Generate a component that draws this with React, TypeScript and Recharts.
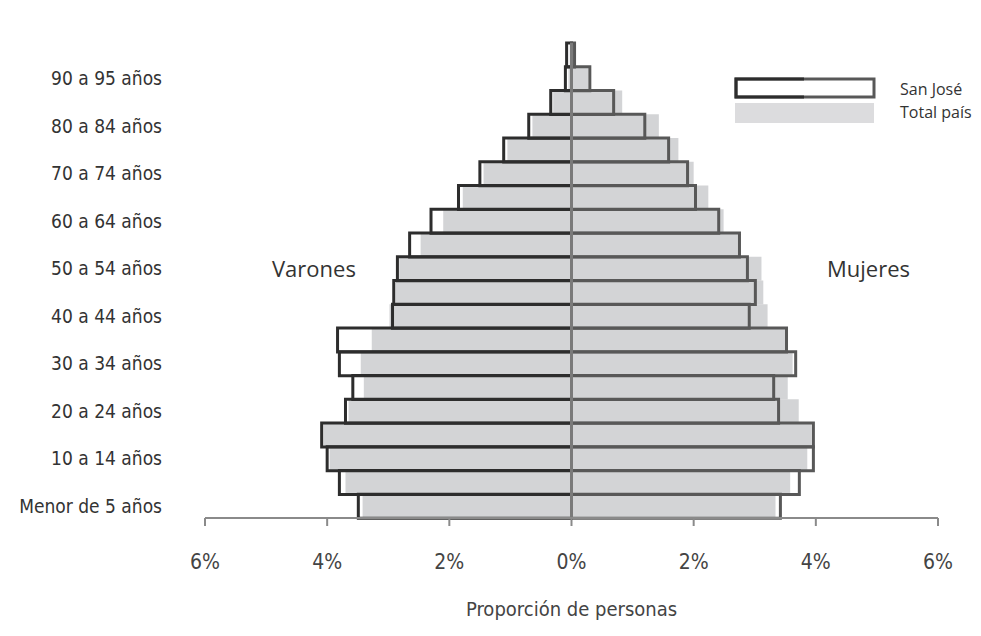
import { BarChart, Bar, XAxis, YAxis, ReferenceLine, Label } from 'recharts';

// Grupos de edad, de abajo hacia arriba
const grupos = [
  'Menor de 5 años', '5 a 9 años', '10 a 14 años', '15 a 19 años', '20 a 24 años',
  '25 a 29 años', '30 a 34 años', '35 a 39 años', '40 a 44 años', '45 a 49 años',
  '50 a 54 años', '55 a 59 años', '60 a 64 años', '65 a 69 años', '70 a 74 años',
  '75 a 79 años', '80 a 84 años', '85 a 89 años', '90 a 95 años', '95 y más',
];

// % de la población
const varonesSJ = [3.49, 3.8, 4.0, 4.09, 3.7, 3.58, 3.8, 3.83, 2.93, 2.91, 2.85, 2.65, 2.3, 1.85, 1.5, 1.11, 0.7, 0.34, 0.1, 0.08];
const varonesPais = [3.42, 3.7, 3.96, 4.06, 3.65, 3.4, 3.45, 3.27, 2.98, 2.88, 2.82, 2.47, 2.1, 1.78, 1.44, 1.05, 0.64, 0.3, 0.05, 0.03];
const mujeresSJ = [3.42, 3.73, 3.96, 3.96, 3.39, 3.31, 3.67, 3.52, 2.91, 3.01, 2.88, 2.75, 2.41, 2.03, 1.9, 1.59, 1.2, 0.69, 0.3, 0.05];
const mujeresPais = [3.34, 3.58, 3.86, 3.93, 3.72, 3.54, 3.62, 3.5, 3.21, 3.14, 3.11, 2.77, 2.49, 2.24, 2.0, 1.75, 1.43, 0.83, 0.27, 0.04];

const xTicks = [-6, -4, -2, 0, 2, 4, 6];

const data = grupos.map((g, i) => ({
  grupo: g,
  varonesPais: -varonesPais[i],
  mujeresPais: mujeresPais[i],
  varonesSJ: -varonesSJ[i],
  mujeresSJ: mujeresSJ[i],
}));

const narrow = "'Liberation Sans Narrow', 'DejaVu Sans Condensed', sans-serif";
const plain = "'Open Sans', 'Noto Sans', sans-serif";

export default function App() {
  return (
    <div style={{ position: 'relative', width: 965, height: 620 }}>
      <BarChart
        width={965}
        height={620}
        data={data}
        layout="vertical"
        stackOffset="sign"
        barCategoryGap={0}
        margin={{ top: 35, right: 35, bottom: 10, left: 0 }}
      >
        <XAxis
          type="number"
          domain={[-6, 6]}
          ticks={xTicks}
          tickFormatter={(v: number) => `${Math.abs(v)}%`}
          stroke="#8a8a8a"
          strokeWidth={2}
          tickSize={8}
          tickMargin={28}
          height={100}
          tick={{ fill: '#444', fontSize: 21, fontFamily: narrow }}
        >
          <Label
            value="Proporción de personas"
            position="insideBottom"
            offset={2}
            style={{ fill: '#444', fontSize: 20, fontFamily: narrow }}
          />
        </XAxis>
        <YAxis
          yAxisId="pais"
          type="category"
          dataKey="grupo"
          reversed
          width={197}
          interval={1}
          axisLine={false}
          tickLine={false}
          tickMargin={37}
          tick={{ fill: '#333', fontSize: 19, fontFamily: narrow }}
        />
        <YAxis yAxisId="sj" type="category" dataKey="grupo" reversed hide />
        <Bar yAxisId="pais" dataKey="varonesPais" stackId="pais" fill="#d3d4d6" isAnimationActive={false} />
        <Bar yAxisId="pais" dataKey="mujeresPais" stackId="pais" fill="#d3d4d6" isAnimationActive={false} />
        <Bar yAxisId="sj" dataKey="varonesSJ" stackId="sj" fill="none" stroke="#2d2d2d" strokeWidth={3} isAnimationActive={false} />
        <Bar yAxisId="sj" dataKey="mujeresSJ" stackId="sj" fill="none" stroke="#585858" strokeWidth={3} isAnimationActive={false} />
        <ReferenceLine yAxisId="pais" x={0} stroke="#7a7a7a" strokeWidth={3} />
      </BarChart>

      <div style={{ position: 'absolute', left: 264, top: 245, fontFamily: plain, fontSize: 22, color: '#333' }}>Varones</div>
      <div style={{ position: 'absolute', left: 819, top: 245, fontFamily: plain, fontSize: 22, color: '#333' }}>Mujeres</div>

      <svg style={{ position: 'absolute', left: 726, top: 69 }} width={146} height={50}>
        <rect x={2} y={2} width={138} height={18} fill="#fff" stroke="#585858" strokeWidth={3} />
        <path d="M70 2 H2 V20 H70" fill="none" stroke="#2d2d2d" strokeWidth={3} />
        <rect x={1} y={26} width={139} height={20} fill="#dcdcde" />
      </svg>
      <div style={{ position: 'absolute', left: 892, top: 70, fontFamily: plain, fontSize: 16, color: '#333', lineHeight: '23px' }}>
        <div>San José</div>
        <div>Total país</div>
      </div>
    </div>
  );
}
